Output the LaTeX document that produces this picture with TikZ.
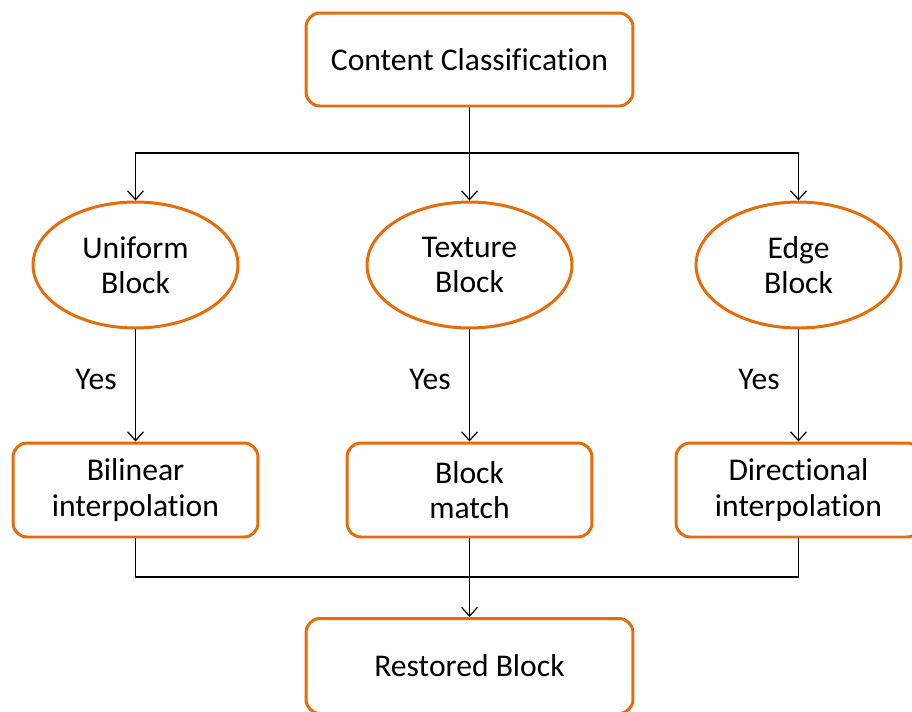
\documentclass[tikz,border=0pt]{standalone}
\usepackage{fontspec}
\setmainfont{Carlito}[RawFeature={-liga,-clig,-calt,-dlig}]
\usetikzlibrary{shapes.geometric,arrows.meta}
\definecolor{boxorange}{HTML}{E46C0A}

\tikzset{
  stepbox/.style={draw=boxorange, line width=1.7pt, rounded corners=8pt, fill=white,
    align=center, font=\fontsize{18}{20}\selectfont, inner sep=0pt},
  blockell/.style={draw=boxorange, line width=1.7pt, ellipse, fill=white, align=center,
    minimum width=4.1cm, minimum height=2.52cm, inner sep=0pt,
    font=\fontsize{18}{20}\selectfont},
  flow/.style={line width=0.7pt, -{Straight Barb[length=5pt,width=9pt]}},
  plain/.style={line width=0.7pt},
  yeslabel/.style={left=7pt, pos=0.45, font=\fontsize{18}{20}\selectfont}
}

\begin{document}
\begin{tikzpicture}[x=0.02cm, y=-0.02cm]
  \useasboundingbox (0,0) rectangle (912,711);
  % Top box
  \node[stepbox, minimum width=6.54cm, minimum height=1.86cm] (cc) at (469.5,59.5) {Content Classification};
  % Block types
  \node[blockell] (uni) at (135.5,265) {Uniform\\Block};
  \node[blockell] (tex) at (469.5,265) {Texture\\Block};
  \node[blockell] (edg) at (798.5,265) {Edge\\Block};
  % Methods
  \node[stepbox, minimum width=4.9cm, minimum height=1.88cm] (bil) at (135.5,490) {Bilinear\\interpolation};
  \node[stepbox, minimum width=4.9cm, minimum height=1.88cm] (bm) at (469.5,490) {Block\\match};
  \node[stepbox, minimum width=4.9cm, minimum height=1.88cm] (dir) at (798.5,490) {Directional\\interpolation};
  % Result
  \node[stepbox, minimum width=6.54cm, minimum height=1.9cm] (res) at (469.5,666) {Restored Block};
  % Branch and merge points
  \coordinate (split) at (469.5,153);
  \coordinate (merge) at (469.5,577);
  % Connectors
  \draw[plain] (cc) -- (split);
  \draw[flow] (split) -| (uni);
  \draw[flow] (split) -- (tex);
  \draw[flow] (split) -| (edg);
  \draw[flow] (uni) -- node[yeslabel] {Yes} (bil);
  \draw[flow] (tex) -- node[yeslabel] {Yes} (bm);
  \draw[flow] (edg) -- node[yeslabel] {Yes} (dir);
  \draw[plain] (bil) |- (merge);
  \draw[plain] (dir) |- (merge);
  \draw[flow] (bm) -- (res);
\end{tikzpicture}
\end{document}
